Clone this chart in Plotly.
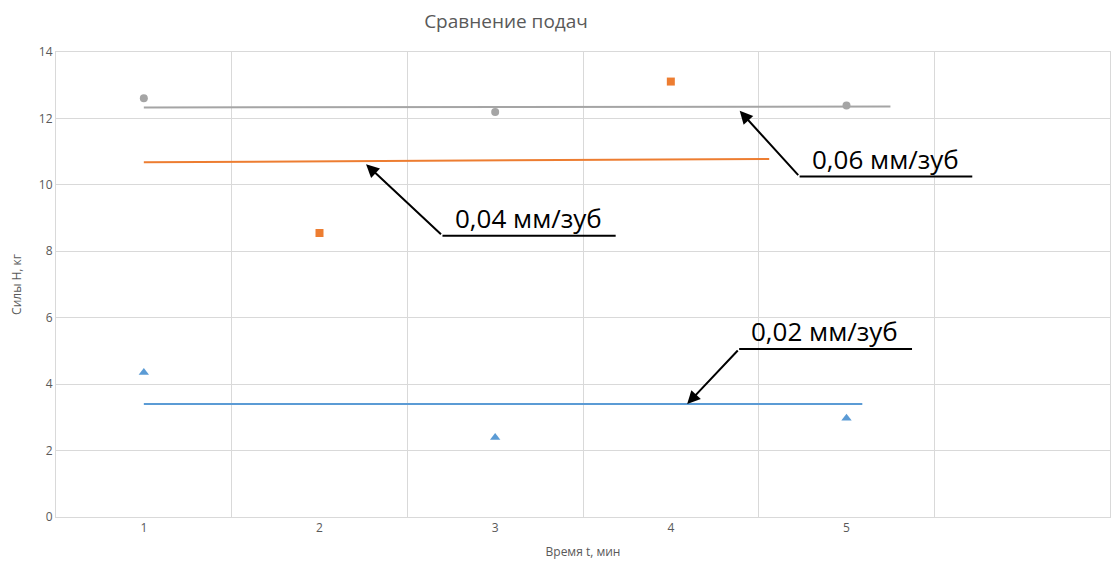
import plotly.graph_objects as go

# Data
x_gray = [1, 3, 5]
y_gray = [12.61, 12.19, 12.39]
x_orange = [2, 4]
y_orange = [8.55, 13.11]
x_blue = [1, 3, 5]
y_blue = [4.35, 2.39, 2.97]

# Trendlines (endpoints)
trend_gray_x = [1, 5.25]
trend_gray_y = [12.33, 12.36]
trend_orange_x = [1, 4.56]
trend_orange_y = [10.68, 10.78]
trend_blue_x = [1, 5.09]
trend_blue_y = [3.40, 3.40]

x_ticks = [1, 2, 3, 4, 5]
x_ticklabels = ["1", "2", "3", "4", "5"]

labels = ["0,06 мм/зуб", "0,04 мм/зуб", "0,02 мм/зуб"]

GRAY = "#a5a5a5"
ORANGE = "#ed7d31"
BLUE = "#5b9bd5"
TXT = "#595959"
GRID = "#d9d9d9"

fig = go.Figure()
fig.add_trace(go.Scatter(x=trend_gray_x, y=trend_gray_y, mode="lines",
                         line=dict(color=GRAY, width=2), showlegend=False, hoverinfo="skip"))
fig.add_trace(go.Scatter(x=trend_orange_x, y=trend_orange_y, mode="lines",
                         line=dict(color=ORANGE, width=2), showlegend=False, hoverinfo="skip"))
fig.add_trace(go.Scatter(x=trend_blue_x, y=trend_blue_y, mode="lines",
                         line=dict(color=BLUE, width=2), showlegend=False, hoverinfo="skip"))
fig.add_trace(go.Scatter(x=x_gray, y=y_gray, mode="markers",
                         marker=dict(color=GRAY, size=8, symbol="circle"), showlegend=False))
fig.add_trace(go.Scatter(x=x_orange, y=y_orange, mode="markers",
                         marker=dict(color=ORANGE, size=8, symbol="square"), showlegend=False))
fig.add_trace(go.Scatter(x=x_blue, y=y_blue, mode="markers",
                         marker=dict(color=BLUE, size=9, symbol="triangle-up"), showlegend=False))

# callouts: (text, text x, text y, tip x, tip y, elbow x, elbow y, end x)
callouts = [
    (labels[0], 5.224, 10.78, 4.392, 12.23, 4.733, 10.25, 5.716),
    (labels[1], 3.187, 9.01, 2.265, 10.62, 2.70, 8.47, 3.686),
    (labels[2], 4.875, 5.61, 4.093, 3.40, 4.389, 5.06, 5.373),
]
for text, tx, ty, px, py, ex, ey, endx in callouts:
    fig.add_shape(type="line", x0=ex, y0=ey, x1=endx, y1=ey, xref="x", yref="y",
                  line=dict(color="black", width=2))
    fig.add_annotation(x=px, y=py, ax=ex, ay=ey, xref="x", yref="y", axref="x", ayref="y",
                       text="", showarrow=True, arrowhead=2, arrowsize=1.3, arrowwidth=2,
                       arrowcolor="black", standoff=0)
    fig.add_annotation(x=tx, y=ty, xref="x", yref="y", text=text, showarrow=False,
                       font=dict(family="Open Sans", size=26, color="black"))

fig.update_layout(
    width=1111, height=568,
    margin=dict(l=56, r=1, t=52, b=51),
    paper_bgcolor="white", plot_bgcolor="white",
    font=dict(family="Open Sans", color=TXT, size=12),
    title=dict(text="Сравнение подач", x=506 / 1111, xanchor="center", xref="container",
               y=1 - 21 / 568, yanchor="middle", yref="container",
               font=dict(family="Open Sans", size=19, color=TXT)),
    xaxis=dict(range=[0.5, 6.5], tickmode="array", tickvals=x_ticks, ticktext=x_ticklabels,
               showgrid=False, zeroline=False, showline=True, linecolor=GRID, mirror=True,
               ticks="", ticklen=0, tickfont=dict(size=12, color=TXT),
               minor=dict(tick0=0.5, dtick=1, showgrid=True, gridcolor=GRID, gridwidth=1),
               title=dict(text="Время t, мин", font=dict(size=12, color=TXT), standoff=12)),
    yaxis=dict(range=[0, 14], dtick=2, showgrid=True, gridcolor=GRID, zeroline=False,
               showline=True, linecolor=GRID, mirror=True, ticks="", ticklen=0,
               tickfont=dict(size=12, color=TXT),
               title=dict(text="Силы Н, кг", font=dict(size=12, color=TXT), standoff=14)),
)

fig.write_html("out.html")
